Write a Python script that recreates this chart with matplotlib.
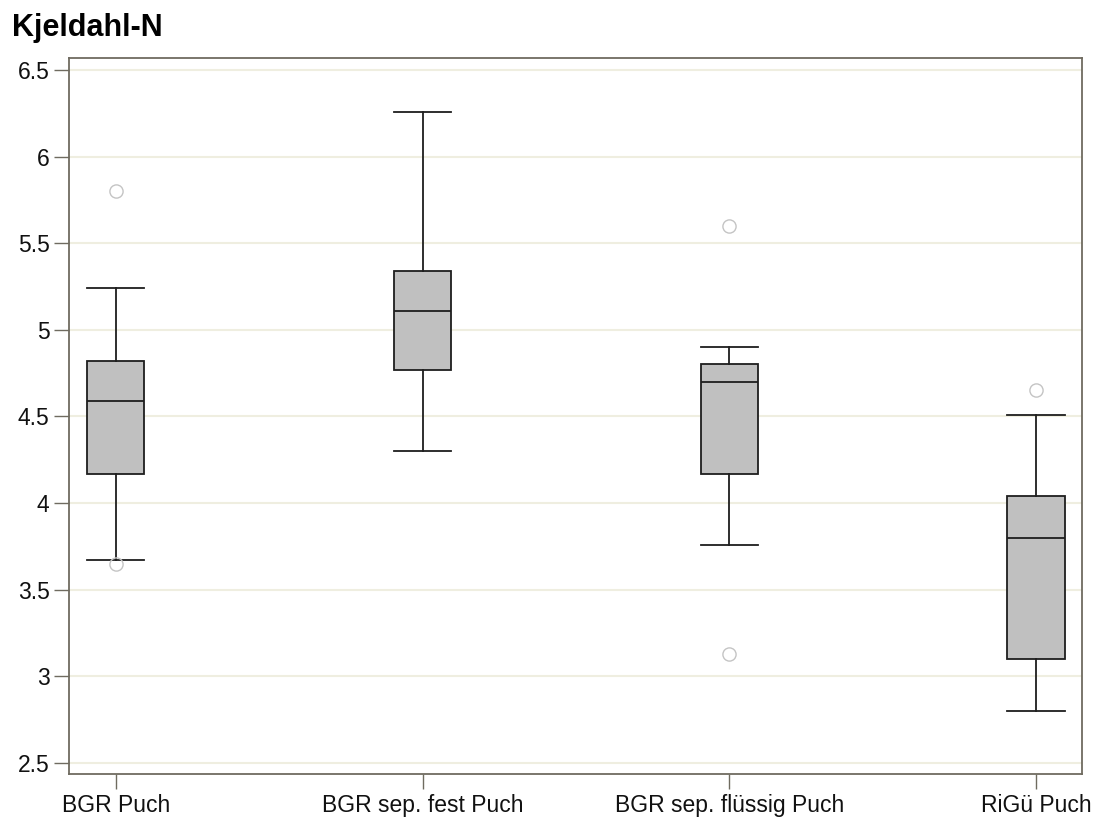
import numpy as np
import matplotlib.pyplot as plt

# Kjeldahl-N box plot
categories = ["BGR Puch", "BGR sep. fest Puch", "BGR sep. flüssig Puch", "RiGü Puch"]
whisker_low = [3.67, 4.30, 3.76, 2.80]
q1 = [4.17, 4.77, 4.17, 3.10]
median = [4.59, 5.11, 4.70, 3.80]
q3 = [4.82, 5.34, 4.80, 4.04]
whisker_high = [5.24, 6.26, 4.90, 4.51]
outliers = [[5.80, 3.65], [], [5.60, 3.13], [4.65]]
yticks = [2.5, 3, 3.5, 4, 4.5, 5, 5.5, 6, 6.5]
ytick_labels = ["2.5", "3", "3.5", "4", "4.5", "5", "5.5", "6", "6.5"]

plt.rcParams['font.family'] = ['Liberation Sans', 'DejaVu Sans']

stats = []
for i, name in enumerate(categories):
    stats.append({
        "label": name,
        "whislo": whisker_low[i],
        "q1": q1[i],
        "med": median[i],
        "q3": q3[i],
        "whishi": whisker_high[i],
        "fliers": outliers[i],
    })

fig = plt.figure(figsize=(11.05, 8.24), dpi=100)
# axes box: x 69..1082 px, y 58..774 px
ax = fig.add_axes([0.0624, 0.0607, 0.9168, 0.8689])

line_col = "#1e1e1e"
ax.bxp(stats, positions=range(len(categories)), widths=0.186, patch_artist=True,
       boxprops=dict(facecolor="#c0c0c0", edgecolor=line_col, linewidth=1.3),
       medianprops=dict(color=line_col, linewidth=1.3),
       whiskerprops=dict(color=line_col, linewidth=1.3),
       capprops=dict(color=line_col, linewidth=1.3),
       capwidths=0.186,
       flierprops=dict(marker="o", markersize=9.5, markerfacecolor="none",
                       markeredgecolor="#c4c4c4", markeredgewidth=1.0))

ax.set_xlim(-0.153, 3.15)
ax.set_ylim(2.436, 6.569)
ax.set_yticks(yticks)
ax.set_yticklabels(ytick_labels)
ax.set_xticks(range(len(categories)))
ax.set_xticklabels(categories)

ax.yaxis.grid(True, color="#efeee0", linewidth=1.5)
ax.set_axisbelow(True)

spine_col = "#6f6b60"
for s in ax.spines.values():
    s.set_color(spine_col)
    s.set_linewidth(1.3)
ax.tick_params(axis="both", direction="out", length=10.5, width=1.0, color=spine_col,
               labelsize=16.5, labelcolor="#111111")
ax.tick_params(axis="y", pad=3.5)
ax.tick_params(axis="x", pad=4)

fig.text(0.011, 0.966, "Kjeldahl-N", fontsize=22, fontweight="bold", ha="left", va="center")

fig.savefig("out.png", dpi=100)
